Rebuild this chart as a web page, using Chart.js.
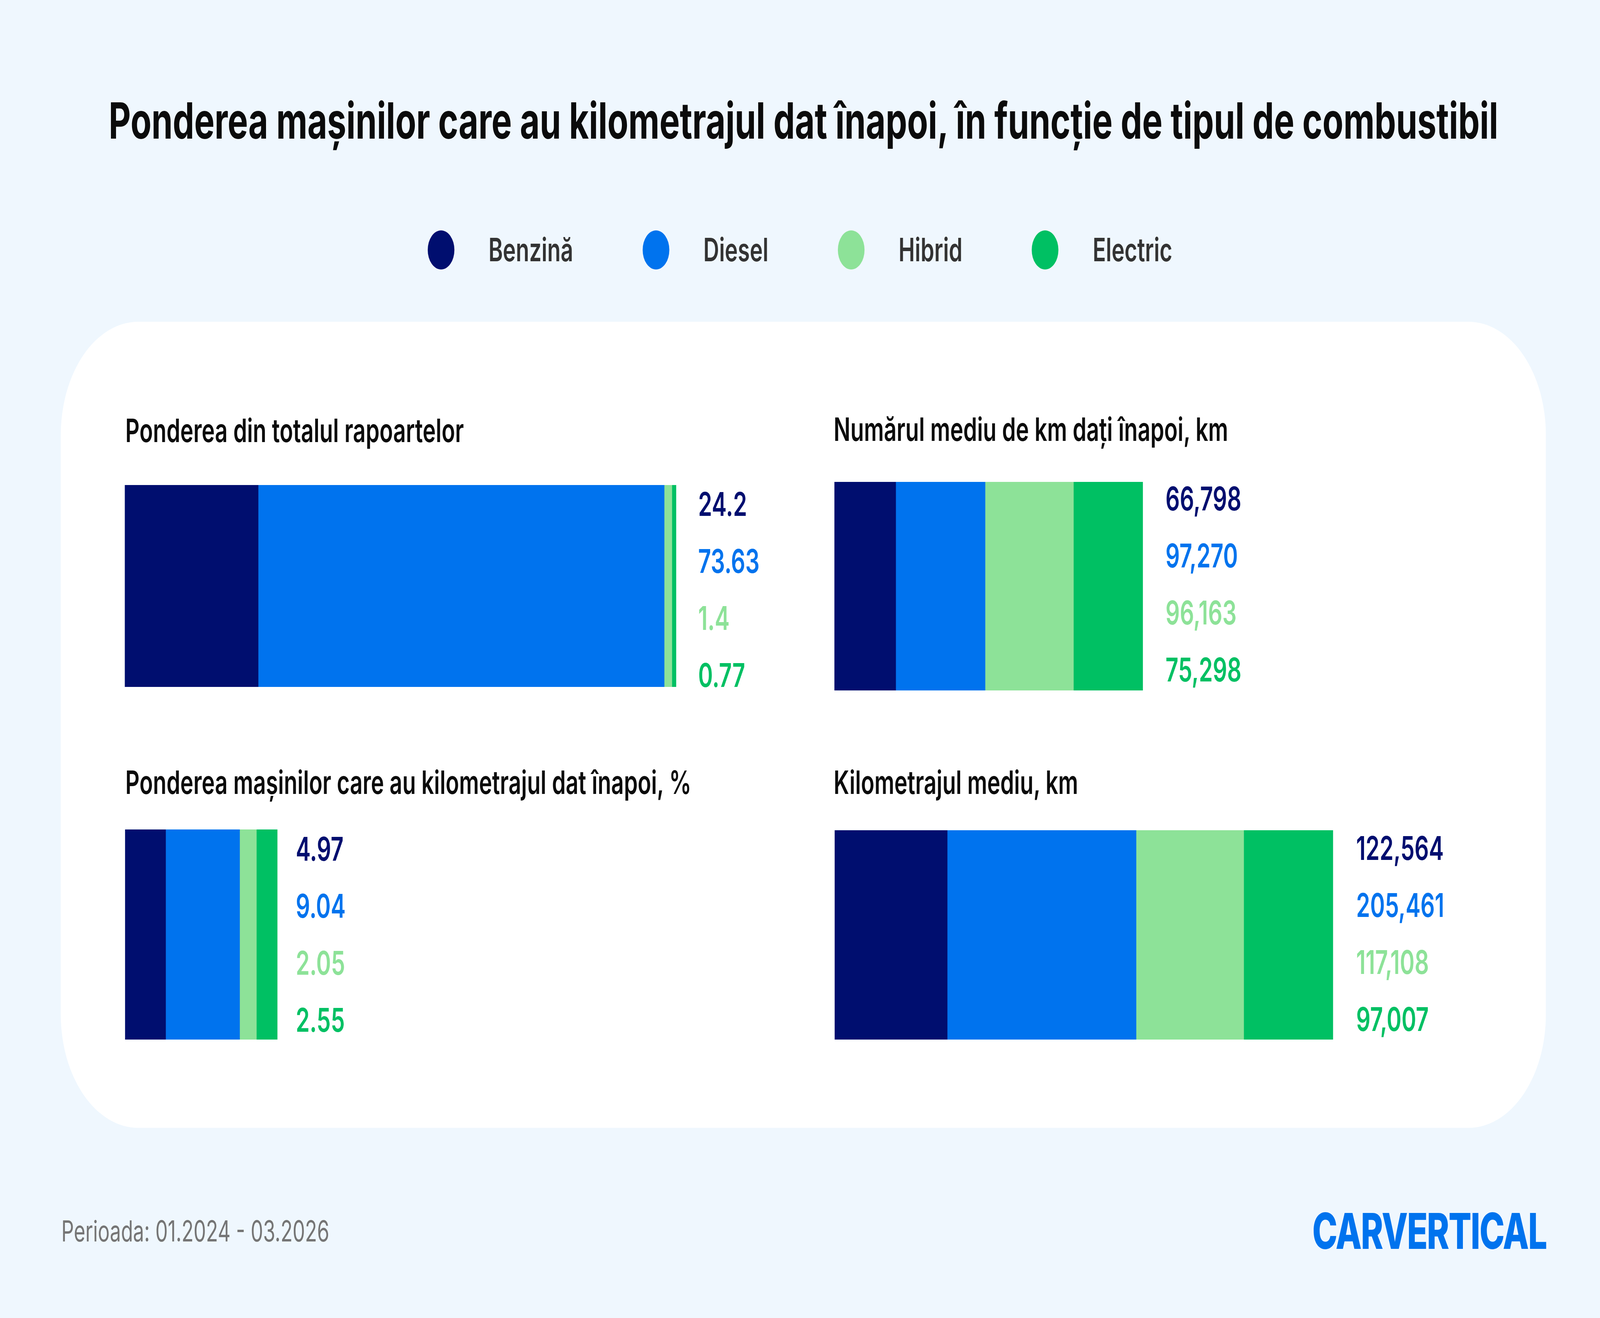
<!DOCTYPE html>
<html lang="ro">
<head>
<meta charset="utf-8">
<title>Ponderea mașinilor care au kilometrajul dat înapoi</title>
<script src="https://cdn.jsdelivr.net/npm/chart.js@4.4.1/dist/chart.umd.min.js"></script>
<style>
    html, body { margin: 0; padding: 0; overflow: hidden; background: #eff7fe; }
    #stage {
        width: 6000px;
        height: 3375px;
        position: absolute;
        left: 0;
        top: 0;
        transform-origin: 0 0;
        background: #eff7fe;
        font-family: Inter, "Noto Sans", sans-serif;
    }
    .abs { position: absolute; white-space: nowrap; line-height: 1; }
    #title { left: 13px; top: 245px; width: 6000px; text-align: center; font-size: 128px; font-weight: 700; color: #0b0b0b; }
    #legend { left: 0; top: 590px; width: 6000px; height: 100px; display: flex; justify-content: center; align-items: center; }
    .lg-item { display: flex; align-items: center; margin: 0 130px; }
    .lg-dot { width: 100px; height: 100px; border-radius: 50%; margin-right: 128px; }
    .lg-text { font-size: 82px; font-weight: 600; color: #333; }
    #panel { left: 228px; top: 824px; width: 5569px; height: 2064px; background: #fff; border-radius: 290px; }
    .sub { font-size: 83px; font-weight: 600; color: #0b0b0b; }
    .box { position: absolute; }
    #period { left: 230px; top: 3115px; font-size: 74px; font-weight: 400; color: #757575; }
    #logo { left: 4921px; top: 3089px; font-size: 127px; font-weight: 800; color: #0073ee; letter-spacing: -3px; }
</style>
</head>
<body>
<div id="stage">
    <div id="title" class="abs">Ponderea mașinilor care au kilometrajul dat înapoi, în funcție de tipul de combustibil</div>
    <div id="legend" class="abs"></div>
    <div id="panel" class="abs"></div>

    <div class="abs sub" style="left:470px; top:1061px;">Ponderea din totalul rapoartelor</div>
    <div class="abs sub" style="left:3126px; top:1058px;">Numărul mediu de km dați înapoi, km</div>
    <div class="abs sub" style="left:470px; top:1962px;">Ponderea mașinilor care au kilometrajul dat înapoi, %</div>
    <div class="abs sub" style="left:3126px; top:1962px;">Kilometrajul mediu, km</div>

    <div class="box" id="box1"><canvas id="c1"></canvas></div>
    <div class="box" id="box2"><canvas id="c2"></canvas></div>
    <div class="box" id="box3"><canvas id="c3"></canvas></div>
    <div class="box" id="box4"><canvas id="c4"></canvas></div>

    <div id="period" class="abs">Perioada: 01.2024 - 03.2026</div>
    <div id="logo" class="abs">CARVERTICAL</div>
</div>

<script>
// date
const fuelTypes = ['Benzină', 'Diesel', 'Hibrid', 'Electric'];
const fuelColors = ['#000e6f', '#0073ee', '#8de298', '#00c063'];

const shareOfReports = [24.2, 73.63, 1.4, 0.77];          // %
const avgKmRolledBack = [66798, 97270, 96163, 75298];     // km
const shareRolledBack = [4.97, 9.04, 2.05, 2.55];         // %
const avgMileage = [122564, 205461, 117108, 97007];       // km

// the layout is 6000x3375; fit it to whatever window we actually get
const stage = document.getElementById('stage');
stage.style.transform = `scale(${window.innerWidth / 6000}, ${window.innerHeight / 3375})`;

// legenda
const legend = document.getElementById('legend');
fuelTypes.forEach((name, i) => {
    const item = document.createElement('div');
    item.className = 'lg-item';
    item.innerHTML = `<span class="lg-dot" style="background:${fuelColors[i]}"></span><span class="lg-text">${name}</span>`;
    legend.appendChild(item);
});

const PLOT_W = 2068;
const LABEL_W = 520;
const PAD = 40;
const LINE_GAP = 146;

const valueLabels = {
    id: 'valueLabels',
    afterDatasetsDraw(chart, args, opts) {
        const { ctx, scales } = chart;
        const area = chart.chartArea;
        const total = chart.data.datasets.reduce((s, d) => s + d.data[0], 0);
        const x = scales.x.getPixelForValue(total) + opts.gap;
        const cy = (area.top + area.bottom) / 2 + opts.shift;
        ctx.save();
        ctx.font = '600 84px Inter, "Noto Sans", sans-serif';
        ctx.textAlign = 'left';
        ctx.textBaseline = 'middle';
        chart.data.datasets.forEach((ds, i) => {
            ctx.fillStyle = ds.backgroundColor;
            ctx.fillText(opts.format(ds.data[0]), x, cy + (i - 1.5) * LINE_GAP);
        });
        ctx.restore();
    }
};

function createStackedBar(boxId, canvasId, values, xMax, box, format, gap, shift) {
    const el = document.getElementById(boxId);
    const w = PLOT_W + LABEL_W;
    const h = box.height + 2 * PAD;
    el.style.left = box.left + 'px';
    el.style.top = (box.top - PAD) + 'px';
    el.style.width = w + 'px';
    el.style.height = h + 'px';

    const canvas = document.getElementById(canvasId);
    canvas.width = w;
    canvas.height = h;
    canvas.style.width = w + 'px';
    canvas.style.height = h + 'px';

    return new Chart(canvas, {
        type: 'bar',
        data: {
            labels: [''],
            datasets: fuelTypes.map((name, i) => ({
                label: name,
                data: [values[i]],
                backgroundColor: fuelColors[i],
                borderWidth: 0,
                barPercentage: 1,
                categoryPercentage: 1
            }))
        },
        options: {
            indexAxis: 'y',
            responsive: false,
            devicePixelRatio: 1,
            animation: false,
            layout: { padding: { left: 0, right: LABEL_W, top: PAD, bottom: PAD } },
            plugins: {
                legend: { display: false },
                tooltip: { enabled: false },
                valueLabels: { format, gap, shift }
            },
            scales: {
                x: { display: false, stacked: true, min: 0, max: xMax },
                y: { display: false, stacked: true }
            }
        },
        plugins: [valueLabels]
    });
}

const asText = v => String(v);
const asKm = v => v.toLocaleString('en-US');

createStackedBar('box1', 'c1', shareOfReports, 100, { left: 468, top: 1242, height: 517 }, asText, 82, 14);
createStackedBar('box2', 'c2', avgKmRolledBack, 600000, { left: 3129, top: 1234, height: 534 }, asKm, 85, 0);
createStackedBar('box3', 'c3', shareRolledBack, 67.4, { left: 469, top: 2124, height: 538 }, asText, 69, 5);
createStackedBar('box4', 'c4', avgMileage, 600000, { left: 3130, top: 2126, height: 536 }, asKm, 87, 2);
</script>
</body>
</html>
